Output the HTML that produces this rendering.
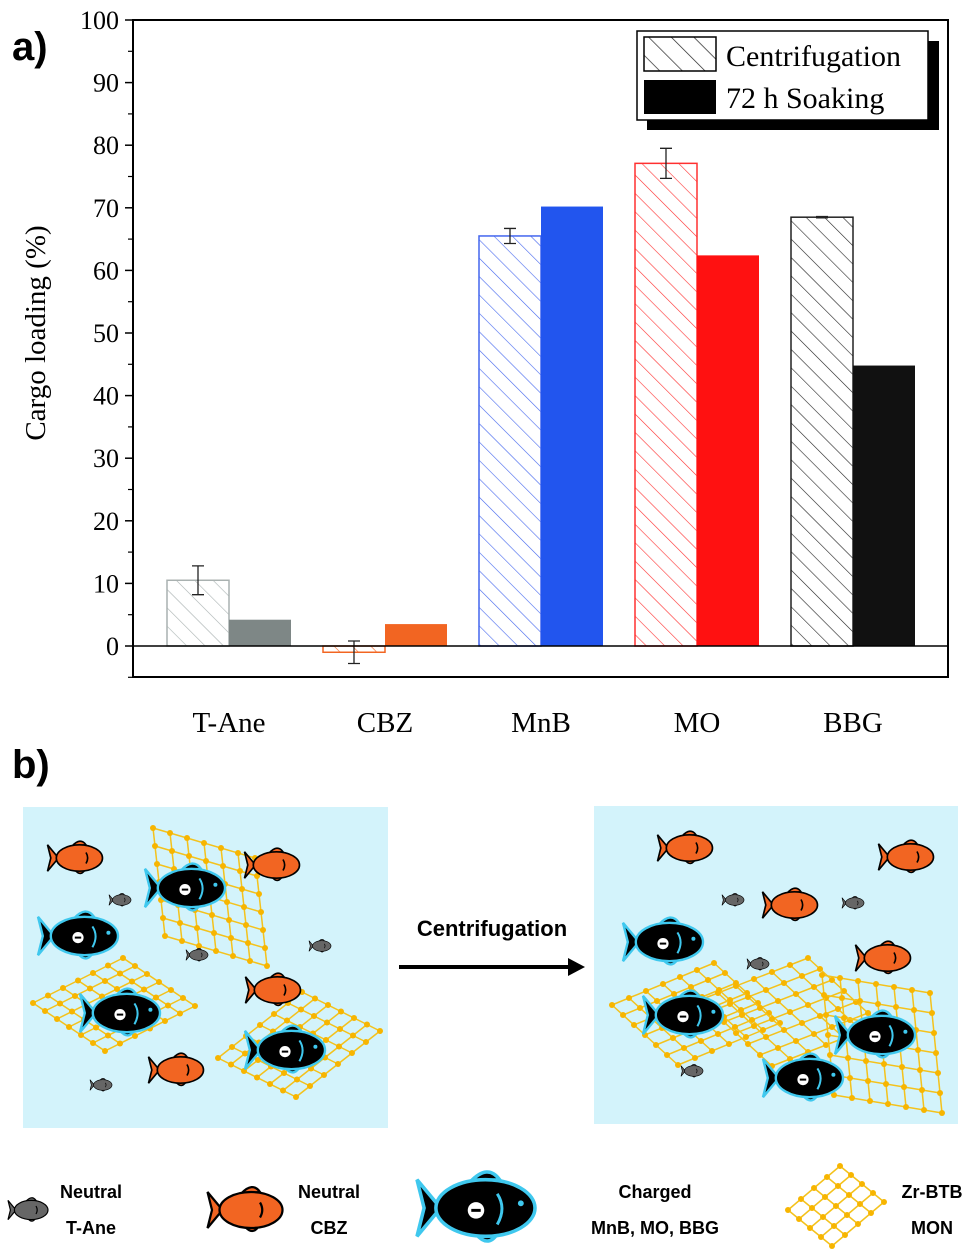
<!DOCTYPE html>
<html><head><meta charset="utf-8"><style>
body{margin:0;background:#fff;}
svg{display:block;}
</style></head><body>
<svg id="fig" width="977" height="1259" viewBox="0 0 977 1259" xmlns="http://www.w3.org/2000/svg">
<defs>
<pattern id="hatch-k" patternUnits="userSpaceOnUse" width="16" height="16" patternTransform="rotate(-45)"><line x1="0" y1="0" x2="0" y2="16" stroke="#222" stroke-width="1.4"/></pattern>
</defs>
<text x="12" y="60" font-family="Liberation Sans, sans-serif" font-weight="bold" font-size="40">a)</text>
<text x="12" y="778" font-family="Liberation Sans, sans-serif" font-weight="bold" font-size="40">b)</text>
<g id="chart"></g>
<g id="illus"></g>
</svg>
<script>
const categories=["T-Ane","CBZ","MnB","MO","BBG"];
const centrifugation=[10.5,-1.0,65.5,77.1,68.5];
const centErr=[2.3,1.8,1.2,2.4,0.1];
const soaking=[4.2,3.5,70.2,62.4,44.8];
const yTicks=[0,10,20,30,40,50,60,70,80,90,100];
const colors=["#7e8786","#f26522","#2255ee","#ff1111","#111111"];
const hatchColors=["#a9b1b0","#f26522","#4466ee","#ff3030","#222222"];

const NS="http://www.w3.org/2000/svg";
function mk(tag,attrs,parent){const e=document.createElementNS(NS,tag);for(const k in attrs)e.setAttribute(k,attrs[k]);if(parent)parent.appendChild(e);return e;}
const L=133,R=948,T=20,B=677;
const yS=v=>646-v*6.26;
const xC=i=>229+i*156;
const chart=document.getElementById('chart');
const defs=document.querySelector('defs');
hatchColors.forEach((c,i)=>{const p=mk('pattern',{id:'h'+i,patternUnits:'userSpaceOnUse',width:13,height:13,patternTransform:'rotate(-45)'},defs);mk('line',{x1:0,y1:0,x2:0,y2:13,stroke:c,'stroke-width':1.2},p);});
categories.forEach((c,i)=>{
 const x=xC(i),w=62;
 const v=centrifugation[i],y0=yS(0),y1=yS(v);
 const b=mk('rect',{x:x-w,y:Math.min(y0,y1),width:w,height:Math.abs(y1-y0),fill:'url(#h'+i+')',stroke:hatchColors[i],'stroke-width':1.5},chart);
 
 
 const s=soaking[i],ys=yS(s);
 const b2=mk('rect',{x:x,y:Math.min(y0,ys),width:w,height:Math.abs(ys-y0),fill:colors[i]},chart);
 
 
 const e=centErr[i],ex=x-w/2;
 const eb=mk('path',{d:`M${ex} ${yS(v+e)}V${yS(v-e)}M${ex-6} ${yS(v+e)}H${ex+6}M${ex-6} ${yS(v-e)}H${ex+6}`,stroke:'#222','stroke-width':1.3,fill:'none'},chart);
 
 
 const t=mk('text',{x:x,y:732,'text-anchor':'middle','font-family':'Liberation Serif, serif','font-size':29},chart);t.textContent=c;
 
 
});
mk('line',{x1:L,y1:yS(0),x2:R,y2:yS(0),stroke:'#000','stroke-width':1.5},chart);
const frame=mk('rect',{x:L,y:T,width:R-L,height:B-T,fill:'none',stroke:'#000','stroke-width':2},chart);


yTicks.forEach(v=>{
 mk('line',{x1:L-8,y1:yS(v),x2:L,y2:yS(v),stroke:'#000','stroke-width':1.5},chart);
 mk('line',{x1:L-5,y1:yS(v-5),x2:L,y2:yS(v-5),stroke:'#000','stroke-width':1.2},chart);
 const t=mk('text',{x:L-14,y:yS(v)+9,'text-anchor':'end','font-family':'Liberation Serif, serif','font-size':26},chart);t.textContent=v;
 
 
});
const yt=mk('text',{x:0,y:0,transform:'translate(45,333) rotate(-90)','text-anchor':'middle','font-family':'Liberation Serif, serif','font-size':29},chart);yt.textContent='Cargo loading (%)';


const lg=mk('g',{},chart);


mk('rect',{x:647,y:41,width:292,height:89,fill:'#000'},lg);
mk('rect',{x:637,y:31,width:291,height:89,fill:'#fff',stroke:'#000','stroke-width':1.5},lg);
mk('rect',{x:644,y:37,width:72,height:34,fill:'url(#hatch-k)',stroke:'#000','stroke-width':1.5},lg);
mk('rect',{x:644,y:80,width:72,height:34,fill:'#000'},lg);
let t1=mk('text',{x:726,y:66,'font-family':'Liberation Serif, serif','font-size':30},lg);t1.textContent='Centrifugation';
let t2=mk('text',{x:726,y:108,'font-family':'Liberation Serif, serif','font-size':30},lg);t2.textContent='72 h Soaking';

const il=document.getElementById('illus');
function box(x,y,w,h,name){const r=mk('rect',{x,y,width:w,height:h,fill:'#d3f3fb'},il);}
box(23,807,365,321,'before-panel');box(594,806,364,318,'after-panel');
function net(cx,cy,ax,ay,bx,by,n,m){m=m||n;const g=mk('g',{},il);
 for(let i=0;i<=n;i++)mk('line',{x1:cx+ax*i,y1:cy+ay*i,x2:cx+ax*i+bx*m,y2:cy+ay*i+by*m,stroke:'#f4c21c','stroke-width':1.5},g);
 for(let j=0;j<=m;j++)mk('line',{x1:cx+bx*j,y1:cy+by*j,x2:cx+bx*j+ax*n,y2:cy+by*j+ay*n,stroke:'#f4c21c','stroke-width':1.5},g);
 for(let i=0;i<=n;i++)for(let j=0;j<=m;j++)mk('circle',{cx:cx+ax*i+bx*j,cy:cy+ay*i+by*j,r:3,fill:'#f7b500'},g);return g;}
function fish(x,y,len,kind){const s=len/100;const g=mk('g',{transform:`translate(${x},${y}) scale(${s})`},il);
 const col={o:'#f26522',k:'#000',g:'#666'}[kind];const st=kind==='k'?'#3fc8ee':'#000';
 mk('path',{d:'M-5 -22 Q10 -38 20 -24 Z M0 22 Q10 34 18 22 Z',fill:col,stroke:st,'stroke-width':3},g);
 mk('path',{d:'M-30 0 L-50 -24 L-44 0 L-50 24 Z',fill:col,stroke:st,'stroke-width':3},g);
 mk('ellipse',{cx:8,cy:0,rx:42,ry:24,fill:col,stroke:st,'stroke-width':3},g);
 if(kind==='k'){mk('circle',{cx:0,cy:2,r:7,fill:'#fff'},g);mk('line',{x1:-4,y1:2,x2:4,y2:2,stroke:'#000','stroke-width':2.5},g);mk('path',{d:'M18 -12 Q26 0 18 14',stroke:'#3fc8ee','stroke-width':2.5,fill:'none'},g);mk('circle',{cx:38,cy:-4,r:2.5,fill:'#3fc8ee'},g);}
 else mk('path',{d:'M20 -10 Q26 0 20 10',stroke:'#000','stroke-width':3,fill:'none'},g);
 return g;}
net(153,828,17,5,2,18,6,6);net(33,1003,15,-7.5,12,8,6,6);net(218,1058,14,-11,13,6.5,6,6);
net(612,1005,17,-7,11,10,6,6);net(700,1000,18,-7,12,11,6,6);net(822,975,18,3,2,20,6,6);
[[75,858,55,'o'],[272,865,55,'o'],[273,990,55,'o'],[176,1070,55,'o'],[185,888,80,'k'],[78,936,80,'k'],[120,1013,80,'k'],[285,1050,80,'k'],[120,900,22,'g'],[197,955,22,'g'],[320,946,22,'g'],[101,1085,22,'g'],
 [685,848,55,'o'],[906,857,55,'o'],[790,905,55,'o'],[883,958,55,'o'],[663,942,80,'k'],[683,1015,80,'k'],[875,1035,80,'k'],[803,1078,80,'k'],[733,900,22,'g'],[853,903,22,'g'],[758,964,22,'g'],[692,1071,22,'g']]
.forEach(f=>fish(f[0],f[1],f[2],f[3]));
mk('line',{x1:399,y1:967,x2:570,y2:967,stroke:'#000','stroke-width':4},il);
mk('path',{d:'M568 958 L585 967 L568 976 Z',fill:'#000'},il);
let ct=mk('text',{x:492,y:936,'text-anchor':'middle','font-family':'Liberation Sans, sans-serif','font-weight':'bold','font-size':22},il);ct.textContent='Centrifugation';
fish(28,1210,40,'g');fish(245,1210,75,'o');fish(476,1208,118,'k');net(788,1210,13,-11,11,9,4,4);
[[91,'Neutral','T-Ane'],[329,'Neutral','CBZ'],[655,'Charged','MnB, MO, BBG'],[932,'Zr-BTB','MON']].forEach(l=>{
 const a=mk('text',{x:l[0],y:1198,'text-anchor':'middle','font-family':'Liberation Sans, sans-serif','font-weight':'bold','font-size':18},il);a.textContent=l[1];
 const b=mk('text',{x:l[0],y:1234,'text-anchor':'middle','font-family':'Liberation Sans, sans-serif','font-weight':'bold','font-size':18},il);b.textContent=l[2];});
</script>
</body></html>
